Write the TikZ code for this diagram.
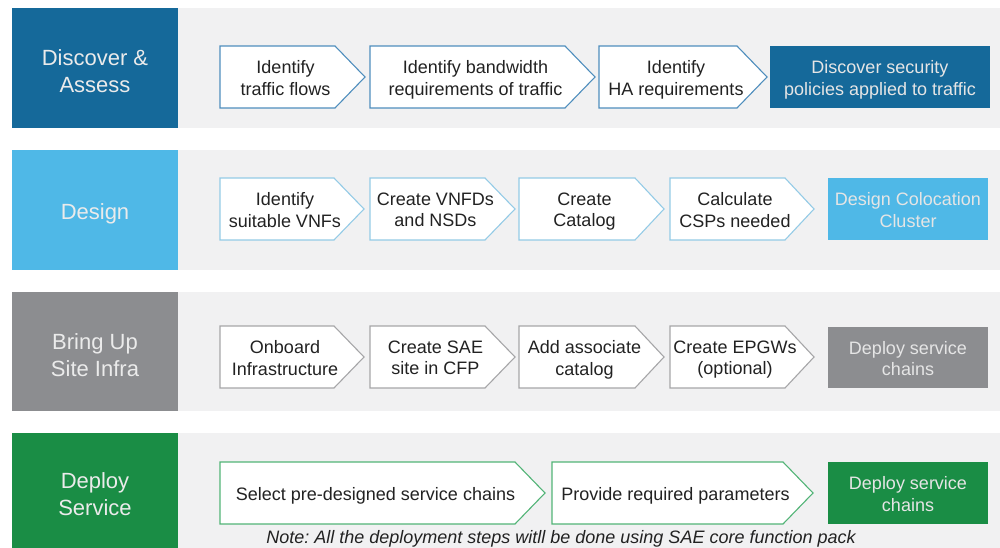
\documentclass[tikz,border=0pt]{standalone}
\usepackage{fontspec}
\setmainfont{Liberation Sans}
\frenchspacing
\definecolor{band}{HTML}{F1F1F2}
\definecolor{cA}{HTML}{15699A}
\definecolor{cB}{HTML}{4FB8E7}
\definecolor{cC}{HTML}{8C8D90}
\definecolor{cD}{HTML}{1A8D45}
\definecolor{eA}{HTML}{4F8EBD}
\definecolor{eB}{HTML}{94CBE6}
\definecolor{eC}{HTML}{A6A6A8}
\definecolor{eD}{HTML}{52B477}
\definecolor{ink}{HTML}{222222}
\tikzset{
  bandbox/.style={fill=band, draw=none},
  labelbox/.style={draw=none, font=\fontsize{22}{27}\selectfont, text=white!92!black, align=center, text depth=5pt},
  steptext/.style={font=\fontsize{18}{21.5}\selectfont, text=ink, align=center, inner sep=0pt, text depth=4.5pt},
  endbox/.style={draw=none, font=\fontsize{18}{21.5}\selectfont, text=white!90!black, align=center, inner sep=0pt, text depth=4.5pt},
  pentline/.style={fill=white, line width=1.1pt},
}
% name, left, shoulder, tip, top, bottom, text, edge colour
\newcommand\pentstep[8]{%
  \draw[pentline, draw=#8] (#2,#5) -- (#3,#5) -- (#4,{(#5+#6)/2}) -- (#3,#6) -- (#2,#6) -- cycle;
  \node[steptext] (#1) at ({(#2+#4-14)/2},{(#5+#6)/2+3}) {#7};
}
% name, left, right, top, bottom, fill, text
\newcommand\boxat[7]{%
  \path[fill=#6] (#2,#4) rectangle (#3,#5);
  \node[endbox] (#1) at ({(#2+#3)/2},{(#4+#5)/2+3}) {#7};
}
\begin{document}
\begin{tikzpicture}[x=1pt,y=-1pt]
\useasboundingbox (0,0) rectangle (1000,548);
\fill[white] (0,0) rectangle (1000,548);
% bands
\fill[bandbox] (178,8) rectangle (1000,128);
\fill[bandbox] (178,150) rectangle (1000,270);
\fill[bandbox] (178,292) rectangle (1000,411);
\fill[bandbox] (178,433) rectangle (1000,548);
% label boxes
\fill[cA] (12,8) rectangle (178,128);
\node[labelbox] (l1) at (95,73.5) {Discover \&\\Assess};
\fill[cB] (12,150) rectangle (178,270);
\node[labelbox] (l2) at (95,214.5) {Design};
\fill[cC] (12,292) rectangle (178,411);
\node[labelbox] (l3) at (95,357.5) {Bring Up\\Site Infra};
\fill[cD] (12,433) rectangle (178,548);
\node[labelbox] (l4) at (95,496.5) {Deploy\\Service};
% row 1
\pentstep{a1}{220}{335}{365}{46}{108}{Identify\\traffic flows}{eA}
\pentstep{a2}{370}{565}{595}{46}{108}{Identify bandwidth\\requirements of traffic}{eA}
\pentstep{a3}{599}{737}{767}{46}{108}{Identify\\HA requirements}{eA}
\boxat{a4}{770}{990}{46}{108}{cA}{Discover security\\policies applied to traffic}
% row 2
\pentstep{b1}{220}{334}{364}{178}{240}{Identify\\suitable VNFs}{eB}
\pentstep{b2}{370}{485}{515}{178}{240}{Create VNFDs\\and NSDs}{eB}
\pentstep{b3}{519}{635}{664}{178}{240}{Create\\Catalog}{eB}
\pentstep{b4}{670}{785}{814}{178}{240}{Calculate\\CSPs needed}{eB}
\boxat{b5}{828}{988}{178}{240}{cB}{Design Colocation\\Cluster}
% row 3
\pentstep{c1}{220}{334}{364}{326}{388}{Onboard\\Infrastructure}{eC}
\pentstep{c2}{370}{485}{515}{326}{388}{Create SAE\\site in CFP}{eC}
\pentstep{c3}{519}{635}{664}{326}{388}{Add associate\\catalog}{eC}
\pentstep{c4}{670}{785}{814}{326}{388}{Create EPGWs\\(optional)}{eC}
\boxat{c5}{828}{988}{327}{388}{cC}{Deploy service\\chains}
% row 4
\pentstep{d1}{220}{515}{545}{462}{524}{Select pre-designed service chains}{eD}
\pentstep{d2}{552}{783}{813}{462}{524}{Provide required parameters}{eD}
\boxat{d3}{828}{988}{462}{524}{cD}{Deploy service\\chains}
\node[font=\fontsize{18}{21}\selectfont\itshape, text=ink, inner sep=0pt] (note) at (561,539) {Note: All the deployment steps witll be done using SAE core function pack};
\end{tikzpicture}
\end{document}
